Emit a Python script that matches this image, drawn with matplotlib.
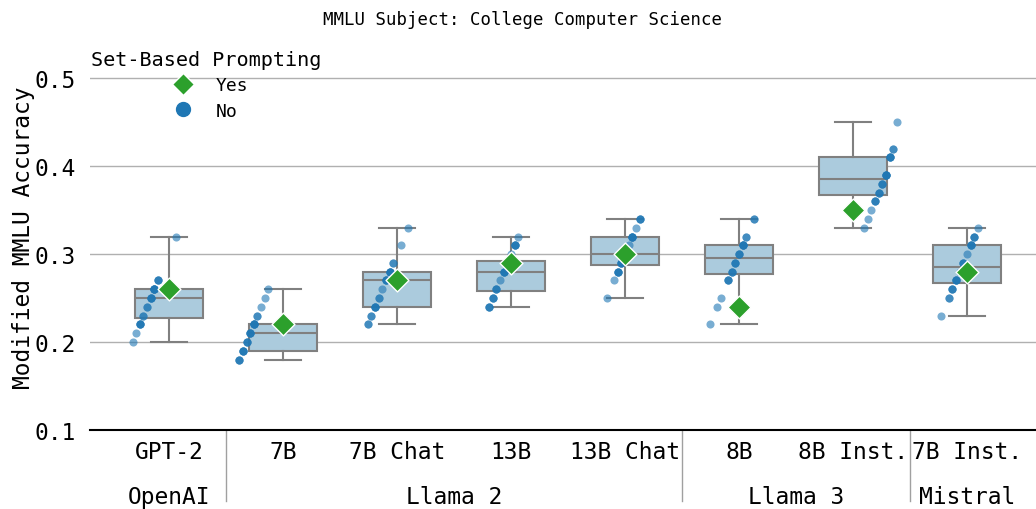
import numpy as np
import matplotlib
matplotlib.use("Agg")
import matplotlib.pyplot as plt
from matplotlib.lines import Line2D
import matplotlib.transforms as mtransforms

plt.rcParams['font.family'] = ['DejaVu Sans Mono']

models = ["GPT-2", "7B", "7B Chat", "13B", "13B Chat", "8B", "8B Inst.", "7B Inst."]
families = ["OpenAI", "Llama 2", "Llama 3", "Mistral"]
family_members = [[0], [1, 2, 3, 4], [5, 6], [7]]

# accuracy over the 24 option orderings, without set-based prompting
gpt2_no = [0.20, 0.21, 0.22, 0.22, 0.22, 0.22, 0.23, 0.23, 0.24, 0.24, 0.25, 0.25,
           0.25, 0.25, 0.26, 0.26, 0.26, 0.26, 0.26, 0.26, 0.27, 0.27, 0.27, 0.32]
llama2_7b_no = [0.18, 0.18, 0.18, 0.19, 0.19, 0.19, 0.19, 0.20, 0.20, 0.20, 0.21, 0.21,
                0.21, 0.21, 0.22, 0.22, 0.22, 0.22, 0.22, 0.23, 0.23, 0.24, 0.25, 0.26]
llama2_7b_chat_no = [0.22, 0.22, 0.23, 0.23, 0.24, 0.24, 0.24, 0.24, 0.25, 0.25, 0.26, 0.27,
                     0.27, 0.27, 0.27, 0.28, 0.28, 0.28, 0.28, 0.28, 0.29, 0.29, 0.31, 0.33]
llama2_13b_no = [0.24, 0.24, 0.24, 0.25, 0.25, 0.25, 0.26, 0.26, 0.26, 0.27, 0.28, 0.28,
                 0.28, 0.28, 0.29, 0.29, 0.29, 0.29, 0.30, 0.31, 0.31, 0.31, 0.31, 0.32]
llama2_13b_chat_no = [0.25, 0.27, 0.28, 0.28, 0.28, 0.28, 0.29, 0.29, 0.29, 0.29, 0.30, 0.30,
                      0.30, 0.30, 0.31, 0.32, 0.32, 0.32, 0.32, 0.32, 0.33, 0.34, 0.34, 0.34]
llama3_8b_no = [0.22, 0.24, 0.25, 0.27, 0.27, 0.27, 0.28, 0.28, 0.28, 0.29, 0.29, 0.29,
                0.30, 0.30, 0.30, 0.31, 0.31, 0.31, 0.31, 0.31, 0.32, 0.32, 0.34, 0.34]
llama3_8b_inst_no = [0.33, 0.34, 0.35, 0.36, 0.36, 0.36, 0.37, 0.37, 0.37, 0.38, 0.38, 0.38,
                     0.39, 0.39, 0.39, 0.39, 0.39, 0.41, 0.41, 0.41, 0.41, 0.42, 0.42, 0.45]
mistral_7b_inst_no = [0.23, 0.25, 0.25, 0.26, 0.26, 0.26, 0.27, 0.27, 0.27, 0.27, 0.28, 0.28,
                      0.29, 0.29, 0.29, 0.30, 0.31, 0.31, 0.31, 0.31, 0.32, 0.32, 0.32, 0.33]

# accuracy with set-based prompting
set_based_yes = [0.26, 0.22, 0.27, 0.29, 0.30, 0.24, 0.35, 0.28]

no_data = [gpt2_no, llama2_7b_no, llama2_7b_chat_no, llama2_13b_no,
           llama2_13b_chat_no, llama3_8b_no, llama3_8b_inst_no, mistral_7b_inst_no]

fig = plt.figure(figsize=(10.36, 5.10), dpi=100)
ax = fig.add_axes([90 / 1036, 79 / 510, 946 / 1036, 387 / 510])

pos = np.arange(len(models))
gray = '#808080'
ax.boxplot(no_data, positions=pos, widths=0.6, whis=(0, 100), patch_artist=True,
           showfliers=False, capwidths=0.31, zorder=2,
           boxprops=dict(facecolor='#abcbdd', edgecolor=gray, linewidth=1.5),
           medianprops=dict(color=gray, linewidth=1.5),
           whiskerprops=dict(color=gray, linewidth=1.5),
           capprops=dict(color=gray, linewidth=1.5))

# points dodged by accuracy level, like a stripplot with hue = accuracy
levels = np.unique(np.round(np.concatenate(no_data), 2))
n_lev = len(levels)
for i, vals in enumerate(no_data):
    vals = np.round(np.array(vals), 2)
    rank = np.searchsorted(levels, vals)
    xs = i - 0.4 + 0.8 / n_lev * (rank + 0.5)
    ax.scatter(xs, vals, s=34, color='#1f77b4', alpha=0.6, linewidths=0, zorder=3)

ax.scatter(pos, set_based_yes, marker='D', s=135, color='#2ca02c',
           edgecolors='white', linewidths=1, zorder=4)

ax.set_xlim(-0.693, 7.605)
ax.set_ylim(0.1, 0.54)
ax.set_yticks([0.1, 0.2, 0.3, 0.4, 0.5])
ax.set_xticks(pos)
ax.set_xticklabels(models)
ax.tick_params(axis='both', length=0, labelsize=16.5)
ax.tick_params(axis='x', pad=7)
ax.tick_params(axis='y', pad=10)
ax.grid(axis='y', color='#b0b0b0', linewidth=1)
ax.set_axisbelow(True)
for s in ['left', 'right', 'top']:
    ax.spines[s].set_visible(False)
ax.spines['bottom'].set_linewidth(1.5)
ax.spines['bottom'].set_color('black')

ax.set_ylabel("Modified MMLU Accuracy", fontsize=16.5)
ax.yaxis.set_label_coords(-0.058, 0.5)

trans = mtransforms.blended_transform_factory(ax.transData, ax.transAxes)
for fam, members in zip(families, family_members):
    ax.text(np.mean(members), -0.172, fam, transform=trans, ha='center', va='center',
            fontsize=16.5)
for members in family_members[1:]:
    xsep = members[0] - 0.5
    ax.plot([xsep, xsep], [0, -0.183], transform=trans, color='#a0a0a0',
            linewidth=1, clip_on=False)

fig.text(0.504, 0.961, "MMLU Subject: College Computer Science", ha='center',
         va='center', fontsize=12.5)

handles = [Line2D([], [], marker='D', color='#2ca02c', linestyle='', markersize=11,
                  markeredgecolor='white'),
           Line2D([], [], marker='o', color='#1f77b4', linestyle='', markersize=10)]
leg = ax.legend(handles, ["Yes", "No"], title="Set-Based Prompting", loc='upper left',
                bbox_to_anchor=(75 / 1036, 475 / 510), bbox_transform=fig.transFigure,
                frameon=False, fontsize=13, title_fontsize=14.5, labelspacing=0.4)

fig.savefig("out.png", dpi=100)
